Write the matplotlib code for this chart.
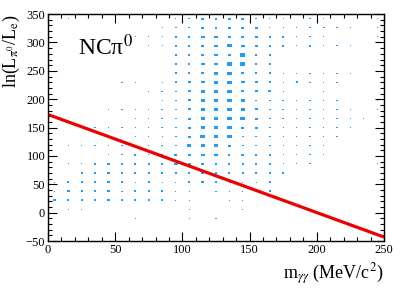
import numpy as np
import matplotlib.pyplot as plt
from matplotlib.patches import Rectangle
from matplotlib.ticker import MultipleLocator

plt.rcParams['font.family'] = ['Liberation Serif', 'DejaVu Serif']
plt.rcParams['mathtext.fontset'] = 'stix'

# bin layout: 25 bins of 10 MeV in x, 25 bins of 16 units in y
x_edges = np.arange(0, 251, 10)
y_edges = np.arange(-50, 351, 16)

# box size level per bin (0 = empty .. 5 = biggest), rows listed from y=342 down to y=-42
rows = {
    342: {1: 1, 9: 1, 10: 2, 11: 3, 12: 3, 13: 3, 14: 3, 15: 2, 16: 1, 17: 1, 19: 1, 20: 1, 24: 1},
    326: {8: 1, 9: 2, 10: 2, 11: 3, 12: 3, 13: 3, 14: 3, 15: 3, 16: 1, 17: 1, 18: 1, 19: 1, 20: 2, 21: 1, 22: 1, 24: 1},
    310: {6: 1, 7: 1, 8: 1, 9: 2, 10: 2, 11: 4, 12: 4, 13: 4, 14: 3, 15: 3, 16: 2, 17: 2, 18: 1, 19: 1, 20: 1, 24: 1},
    294: {7: 1, 8: 1, 9: 2, 10: 2, 11: 3, 12: 4, 13: 5, 14: 4, 15: 3, 16: 2, 17: 2, 18: 1, 19: 2, 20: 1, 21: 1, 22: 1},
    278: {6: 1, 7: 1, 8: 1, 9: 2, 10: 2, 11: 3, 12: 4, 13: 4, 14: 5, 15: 2, 16: 2, 17: 1, 18: 1, 19: 1, 21: 1},
    262: {8: 1, 9: 2, 10: 2, 11: 4, 12: 4, 13: 5, 14: 5, 15: 2, 16: 2, 17: 1, 18: 1, 19: 1, 20: 1, 21: 1},
    246: {9: 2, 10: 2, 11: 3, 12: 5, 13: 5, 14: 3, 15: 2, 16: 2, 17: 1, 18: 1, 19: 1, 20: 1, 21: 1, 22: 1},
    230: {5: 1, 6: 1, 8: 1, 9: 2, 10: 3, 11: 4, 12: 5, 13: 5, 14: 4, 15: 3, 16: 2, 17: 1, 18: 2, 19: 1, 20: 1, 21: 1},
    214: {7: 1, 8: 2, 9: 2, 10: 3, 11: 4, 12: 5, 13: 5, 14: 3, 15: 3, 16: 3, 17: 1, 20: 1},
    198: {8: 1, 9: 2, 10: 3, 11: 4, 12: 4, 13: 5, 14: 4, 15: 2, 16: 2, 17: 2, 18: 1, 19: 1, 20: 1, 21: 1, 24: 1},
    182: {4: 1, 5: 1, 6: 1, 7: 1, 8: 2, 9: 2, 10: 3, 11: 4, 12: 5, 13: 5, 14: 4, 15: 3, 16: 2, 17: 2, 18: 1, 19: 1, 20: 1, 21: 1, 22: 1, 24: 1},
    166: {6: 1, 7: 1, 8: 2, 9: 2, 10: 3, 11: 4, 12: 5, 13: 5, 14: 5, 15: 3, 16: 2, 17: 2, 18: 1, 19: 1, 20: 1, 21: 1, 22: 1, 23: 1},
    150: {3: 1, 4: 1, 5: 1, 6: 1, 7: 1, 8: 2, 9: 2, 10: 3, 11: 4, 12: 4, 13: 5, 14: 3, 15: 3, 16: 2, 17: 1, 18: 1, 19: 1, 20: 1, 21: 1, 22: 1},
    134: {6: 1, 7: 1, 8: 1, 9: 2, 10: 3, 11: 5, 12: 5, 13: 5, 14: 2, 15: 2, 16: 2, 17: 1, 18: 1, 19: 1, 20: 1, 21: 1},
    118: {1: 1, 2: 1, 3: 1, 4: 1, 5: 1, 6: 1, 7: 1, 8: 2, 9: 2, 10: 4, 11: 4, 12: 4, 13: 3, 14: 2, 15: 2, 16: 2, 17: 1, 18: 1, 19: 1, 20: 1},
    102: {4: 1, 5: 1, 6: 2, 7: 1, 8: 2, 9: 3, 10: 3, 11: 4, 12: 4, 13: 2, 14: 3, 15: 2, 16: 2, 17: 1, 18: 1, 19: 1, 20: 1},
    86: {1: 1, 2: 1, 3: 2, 4: 2, 5: 2, 6: 2, 7: 2, 8: 2, 9: 4, 10: 3, 11: 3, 12: 2, 13: 2, 14: 2, 15: 2, 16: 2, 17: 1, 18: 1, 19: 1, 24: 1},
    70: {2: 2, 3: 2, 4: 2, 5: 2, 6: 2, 7: 2, 8: 2, 9: 2, 10: 2, 11: 3, 12: 2, 13: 2, 14: 2, 15: 2, 16: 2, 17: 2, 18: 1, 19: 1, 20: 1},
    54: {0: 1, 1: 2, 2: 2, 3: 2, 4: 2, 5: 2, 6: 1, 7: 2, 8: 1, 9: 1, 10: 2, 11: 3, 12: 2, 13: 1, 14: 1, 15: 1, 16: 2},
    38: {0: 1, 1: 3, 2: 2, 3: 2, 4: 2, 5: 1, 6: 2, 7: 2, 8: 2, 9: 1, 10: 1, 12: 1, 13: 1, 14: 1, 15: 1, 16: 2},
    22: {0: 3, 1: 2, 2: 2, 3: 2, 4: 2, 5: 2, 6: 2, 7: 2, 8: 2, 9: 1, 10: 1, 13: 1, 14: 1},
    6: {1: 1, 2: 1, 10: 1, 14: 1},
    -10: {6: 1, 10: 1, 12: 1},
}

# red selection cut line
cut_x = [0, 250]
cut_y = [173, -43]

fig = plt.figure(figsize=(4.07, 2.88), dpi=100)
ax = fig.add_axes([0.118, 0.163, 0.8255, 0.788])

wfrac = [0, 0.09, 0.15, 0.22, 0.29, 0.36]
hfrac = [0, 0.10, 0.16, 0.22, 0.28, 0.34]
for yc, cols in rows.items():
    for i, lvl in cols.items():
        xc = x_edges[i] + 5
        w = wfrac[lvl] * 10
        h = hfrac[lvl] * 16
        ax.add_patch(Rectangle((xc - w / 2, yc - h / 2), w, h,
                               facecolor='#1f9dff', edgecolor='none'))

ax.plot(cut_x, cut_y, color='#ee0000', lw=2.3, solid_capstyle='butt')

ax.text(22, 277, 'NCπ$^0$', fontsize=17)

ax.set_xlim(0, 250)
ax.set_ylim(-50, 350)
ax.xaxis.set_major_locator(MultipleLocator(50))
ax.xaxis.set_minor_locator(MultipleLocator(10))
ax.yaxis.set_major_locator(MultipleLocator(50))
ax.yaxis.set_minor_locator(MultipleLocator(10))
ax.tick_params(which='both', direction='in', top=True, right=True, labelsize=9, pad=2)
ax.tick_params(which='major', length=6.5, width=0.8)
ax.tick_params(which='minor', length=3.2, width=0.8)
for s in ax.spines.values():
    s.set_linewidth(1.0)

ax.set_xlabel(r'm$_{\gamma\gamma}$ (MeV/c$^2$)', fontsize=13, loc='right', labelpad=4)
ax.set_ylabel(r'ln(L$_{\mathrm{\pi}^0}$/L$_\mathrm{e}$)', fontsize=13, loc='top', labelpad=3)

fig.savefig('out.png', dpi=100)
